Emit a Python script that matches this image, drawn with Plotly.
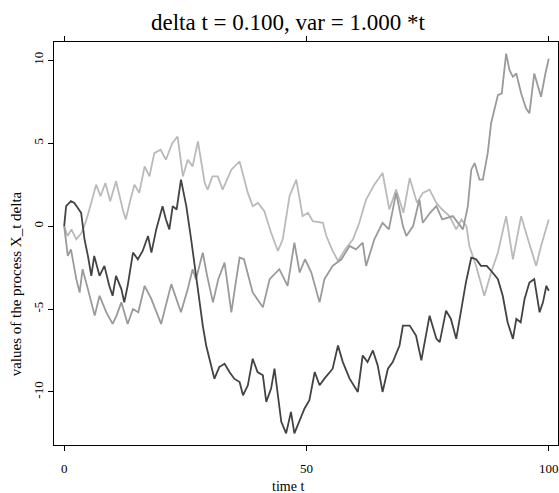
import plotly.graph_objects as go

# ---- data (time t, value) ----
t_a = [0, 0.4, 1.4, 2.1, 3.5, 4.2, 4.9, 5.6, 6.2, 7.3, 8.3, 9.3, 10, 10.7, 11.8, 12.4, 13.1, 14.2, 15.2, 16.2,
       17.3, 18, 19, 20.3, 21, 21.7, 22.4, 23.2, 24.1, 25.2, 26.2, 27.2, 27.9, 28.6, 29.3, 30, 31, 32, 33.1, 34.1,
       35.1, 36.2, 36.9, 37.9, 38.9, 39.9, 41, 41.7, 42.7, 43.4, 44.1, 44.8, 45.8, 46.8, 47.5, 48.6, 49.6, 50.6, 51.7, 52.7,
       53.7, 55.4, 56.5, 57.5, 58.9, 60.6, 61.6, 62.6, 63.7, 64.7, 65.7, 66.8, 67.8, 69.2, 69.9, 71.3, 72.6, 73.7, 74.7, 75.4,
       76.8, 77.5, 78.8, 79.8, 80.9, 81.9, 82.9, 84, 85, 86, 87.2, 88.4, 89.5, 90.5, 91.5, 92.6, 93.3, 94.2, 95, 96,
       97, 98.1, 98.8, 99.5, 100]
x_a = [0, 1.2, 1.5, 1.4, 0.8, -0.8, -1.8, -3.0, -1.8, -3.0, -2.4, -3.6, -4.2, -3.0, -3.8, -4.6, -3.6, -1.6, -2.0, -1.5,
       -0.6, -1.6, -0.2, 1.2, 0.4, -0.2, 1.2, 1.0, 2.8, 1.2, -0.8, -3.0, -4.6, -6.0, -7.2, -8.0, -9.2, -8.5, -8.3, -8.8,
       -9.2, -9.4, -10.2, -9.6, -8.0, -8.8, -9.0, -10.6, -9.8, -8.6, -10.4, -11.8, -12.5, -11.2, -12.5, -11.7, -11.0, -10.5, -8.8, -9.6,
       -9.2, -8.6, -7.2, -8.2, -9.2, -10.0, -7.8, -8.2, -7.5, -8.4, -10.0, -8.6, -8.2, -7.2, -6.0, -6.0, -6.6, -8.1, -6.4, -5.4,
       -6.8, -7.0, -5.1, -5.6, -6.8, -5.0, -3.4, -1.9, -2.0, -2.4, -2.4, -2.8, -3.2, -4.2, -5.8, -6.8, -5.6, -5.8, -4.4, -3.4,
       -3.2, -5.2, -4.6, -3.6, -3.9]

t_b = [0, 0.75, 1.4, 2.5, 3.2, 3.8, 4.9, 6.3, 7.3, 8.7, 10, 10.8, 11.8, 13.1, 14.2, 15.3, 16.6, 18, 20, 22.1,
       24.1, 25.5, 26.5, 27.2, 28.6, 29.5, 30.7, 31.8, 33.1, 34.5, 35.3, 36.2, 37.1, 38.9, 41, 42.4, 44.4, 46.1, 47.5, 48.6,
       49.7, 51, 52.7, 53.7, 55.4, 57.2, 58.9, 60.2, 61.6, 62.3, 64, 65.7, 67, 68.5, 69.9, 70.6, 72, 73.3, 74, 75.5,
       76.8, 78, 80.2, 82.3, 83.3, 84, 84.7, 85.7, 86.4, 87.4, 88.1, 88.8, 89.5, 90.3, 91.2, 91.9, 92.6, 93.3, 94.3, 95.3,
       96, 97, 98.4, 99.3, 100]
x_b = [0, -1.8, -1.4, -3.2, -4.0, -2.6, -3.8, -5.4, -4.2, -5.2, -5.9, -5.4, -4.6, -5.9, -5.0, -5.2, -3.6, -4.4, -5.9, -3.5,
       -5.2, -3.8, -2.6, -3.2, -1.6, -3.0, -4.6, -3.2, -2.2, -5.2, -3.6, -1.9, -2.0, -4.0, -4.9, -3.2, -2.6, -3.6, -1.0, -2.8,
       -2.0, -2.8, -4.6, -3.2, -2.4, -2.0, -1.2, -1.4, -1.0, -2.4, -0.8, 0.2, -0.2, 2.0, 0, -0.6, 0, 1.6, 0.2, 0.8,
       1.2, 0.4, 0.6, -0.2, 1.2, 3.4, 3.8, 2.8, 2.8, 4.4, 6.2, 7.0, 7.9, 8.0, 10.4, 9.4, 9.0, 9.2, 8.0, 7.1,
       6.8, 9.2, 7.8, 9.2, 10.1]

t_c = [0, 0.7, 1.5, 2.5, 3.6, 4.5, 5.2, 6.6, 7.5, 8.5, 9.5, 10.7, 12.1, 12.7, 13.6, 14.5, 15.5, 16.6, 17.6, 18.6,
       19.9, 21, 22.3, 23.4, 24.5, 25.5, 26.5, 27.6, 29, 29.6, 30.6, 31.7, 32.7, 34.5, 36.2, 37.9, 38.9, 40, 41.3, 42.7,
       44.1, 45.1, 46.5, 47.9, 49.2, 50.3, 51.3, 53.4, 54.1, 55.4, 56.5, 58, 59.6, 60.9, 62.3, 64, 65.7, 67.1, 68.5, 70,
       71.3, 72.8, 74, 75.4, 76.8, 78, 79.5, 80.9, 82, 83, 83.6, 85, 86.7, 88.1, 89.5, 91.2, 92.6, 94.3, 95.7, 97.4,
       98.4, 100]
x_c = [0, -0.6, -0.2, -0.8, -0.4, 0.3, 1.0, 2.5, 1.8, 2.6, 1.5, 2.7, 1.0, 0.4, 1.5, 2.5, 2.0, 3.6, 3.0, 4.4,
       4.6, 4.0, 5.0, 5.4, 3.0, 4.0, 3.6, 5.1, 2.6, 2.2, 3.0, 3.0, 2.2, 3.4, 3.9, 2.0, 1.2, 1.4, 0.9, -0.4,
       -1.5, -0.8, 1.8, 2.8, 0.6, 0.8, 0.3, 0.2, -0.6, -1.5, -2.1, -1.4, -0.8, 0.2, 1.6, 2.5, 3.2, 1.0, 2.2, 0.8,
       2.9, 1.4, 2.0, 2.2, 1.4, 1.0, 0.6, -0.2, 0.4, 0, -1.2, -2.4, -4.2, -2.8, -1.6, 0.6, -2.0, 0.6, -0.8, -2.4,
       -1.2, 0.4]

x_ticks = [0, 50, 100]
y_ticks = [-10, -5, 0, 5, 10]

FONT = "Liberation Serif"

fig = go.Figure()
for tt, xx, col in [(t_c, x_c, "#bababa"), (t_b, x_b, "#9a9a9a"), (t_a, x_a, "#434343")]:
    fig.add_trace(go.Scatter(x=tt, y=xx, mode="lines", line=dict(color=col, width=1.8), showlegend=False,
                             hoverinfo="skip"))

axis_common = dict(showline=True, linecolor="black", linewidth=1, mirror="ticks", ticks="outside",
                   ticklen=5, tickcolor="black", tickwidth=1, showgrid=False, zeroline=False,
                   tickfont=dict(family=FONT, size=13, color="black"))

fig.update_layout(
    template="none",
    width=559, height=493,
    margin=dict(l=54, r=1, t=42, b=48),
    paper_bgcolor="white", plot_bgcolor="white",
    font=dict(family=FONT, color="black"),
    title=dict(text="delta t = 0.100, var = 1.000 *t", x=0.515, xref="container", xanchor="center",
               y=1 - 22 / 493, yref="container", yanchor="middle",
               font=dict(family=FONT, size=23, color="black")),
    xaxis=dict(range=[-2.1, 101.9], tickvals=x_ticks, ticktext=[str(v) for v in x_ticks],
               ticklabelstandoff=6, **axis_common),
    yaxis=dict(range=[-13.2, 11.1], tickvals=y_ticks, ticktext=[str(v) for v in y_ticks],
               tickangle=-90, **axis_common),
    annotations=[
        dict(text="time t", xref="paper", yref="paper", x=0.464, y=-0.102, showarrow=False,
             xanchor="center", yanchor="middle", font=dict(family=FONT, size=14, color="black")),
        dict(text="values of the process X_t delta", xref="paper", yref="paper", x=-0.0764, y=0.40,
             showarrow=False, textangle=-90, xanchor="center", yanchor="middle",
             font=dict(family=FONT, size=15, color="black")),
    ],
)

fig.write_html("out.html")
